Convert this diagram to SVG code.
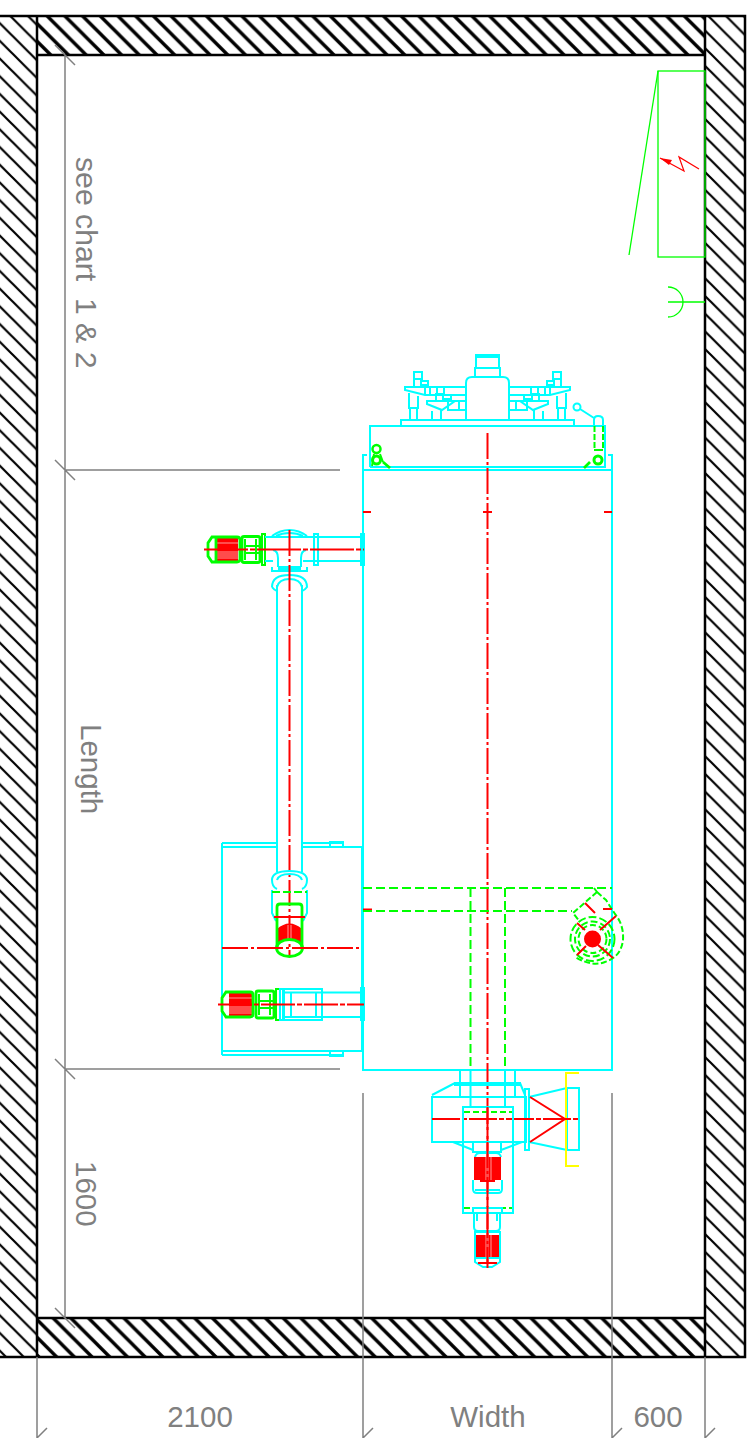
<svg xmlns="http://www.w3.org/2000/svg" xmlns:xlink="http://www.w3.org/1999/xlink" width="753" height="1438" viewBox="0 0 753 1438">
<style>
.c{fill:none;stroke:#00ffff;stroke-width:2}
.g{fill:none;stroke:#00ff00;stroke-width:2}
.gt{fill:none;stroke:#00ff00;stroke-width:1.3}
.g2{fill:none;stroke:#00ff00;stroke-width:2.8}
.d{fill:none;stroke:#00ff00;stroke-width:2;stroke-dasharray:9 4}
.r{fill:none;stroke:#ff0000;stroke-width:2}
.rt{fill:none;stroke:#ff0000;stroke-width:1.2}
.rc{fill:none;stroke:#ff0000;stroke-width:2;stroke-dasharray:26 3 3 3}
.rf{fill:#ff0000;stroke:none}
.w{stroke:#000;stroke-width:2.5;fill:none}
.dim{stroke:#808080;stroke-width:1.5;fill:none}
.t{font-family:"Liberation Sans",Arial,sans-serif;font-size:29.5px;fill:#808080;white-space:pre}
.st{stroke:#fff;stroke-width:.6;fill:none}
</style>
<defs>
<pattern id="hL" patternUnits="userSpaceOnUse" width="17.7" height="17.7" patternTransform="translate(12,0)"><path d="M-2,-2L19.7,19.7M-2,15.7L2,19.7M15.7,-2L19.7,2" stroke="#000" stroke-width="2.2" fill="none"/></pattern>
<pattern id="hT" patternUnits="userSpaceOnUse" width="17.7" height="17.7" patternTransform="translate(13.5,0)"><path d="M-2,-2L19.7,19.7M-2,15.7L2,19.7M15.7,-2L19.7,2" stroke="#000" stroke-width="3.4" fill="none"/></pattern>
<pattern id="hB" patternUnits="userSpaceOnUse" width="17.7" height="17.7" patternTransform="translate(9.5,0)"><path d="M-2,-2L19.7,19.7M-2,15.7L2,19.7M15.7,-2L19.7,2" stroke="#000" stroke-width="3.4" fill="none"/></pattern>
<pattern id="hR" patternUnits="userSpaceOnUse" width="17.7" height="17.7" patternTransform="translate(2,0)"><path d="M-2,-2L19.7,19.7M-2,15.7L2,19.7M15.7,-2L19.7,2" stroke="#000" stroke-width="2.2" fill="none"/></pattern>
<g id="stack">
<rect class="c" x="414" y="372" width="8" height="7"/>
<rect class="c" x="414" y="379" width="7" height="8"/>
<rect class="c" x="421" y="381" width="7" height="4"/>
<path class="c" d="M405,387H430V395H425L405,390ZM409,393V408H418V396M410,408V420M417,408V420M425,387V395M430,387H466M430,395H466"/>
<rect class="c" x="437" y="387" width="7" height="7"/>
<rect class="c" x="436" y="394" width="7" height="7"/>
<rect class="c" x="443" y="395" width="8" height="4"/>
<path class="c" d="M427,401H455L442,410L427,404ZM432,411V420M441,410V420"/>
<rect class="c" x="448" y="401" width="11" height="9"/>
<path class="c" d="M459,401H466M459,410H466"/>
</g>
<g id="motorA">
<rect class="rf" x="216" y="538" width="22" height="23"/>
<path class="st" d="M216,543H238M216,552H238M216,554H238M216,556H238M216,558H238"/>
</g>
</defs>

<g id="walls">
<rect x="0" y="16" width="37" height="1341" fill="url(#hL)"/>
<rect x="705" y="16" width="40" height="1341" fill="url(#hR)"/>
<rect x="37" y="16" width="668" height="39" fill="url(#hT)"/>
<rect x="37" y="1318" width="668" height="39" fill="url(#hB)"/>
<path class="w" d="M0,16H745V1357H0M37,16V1357M705,16V1357M37,55H705M37,1318H705"/>
</g>

<g id="dimensions">
<path class="dim" d="M65,55V1318M55,45L75,65M55,460L75,480M55,1059L75,1079M55,1308L75,1328M65,470H340M65,1069H340"/>
<path class="dim" d="M37,1357V1438M37,1438L47,1428M363,1093V1438M363,1438L373,1428M612,1093V1438M612,1438L622,1428M705,1357V1438M705,1438L715,1428"/>
<text class="t" x="200" y="1427" text-anchor="middle">2100</text>
<text class="t" x="488" y="1427" text-anchor="middle">Width</text>
<text class="t" x="658" y="1427" text-anchor="middle">600</text>
<text class="t" style="font-size:30.2px" xml:space="preserve" transform="translate(76,157) rotate(90)">see chart  1 &amp; 2</text>
<text class="t" transform="translate(81,724) rotate(90)">Length</text>
<text class="t" transform="translate(76,1161) rotate(90)">1600</text>
</g>

<g id="panel">
<rect class="gt" x="658" y="71" width="47" height="186"/>
<path class="gt" d="M658,71L629,255"/>
<path class="rt" d="M660,158L684,171L679,157L699,169"/>
<path class="rf" d="M660,158L672,160L669,165Z"/>
</g>
<g id="socket"><path class="gt" d="M668,287A15,15 0 0 1 668,317M668,302H705"/></g>

<g id="tank">
<rect class="c" x="363" y="470" width="249" height="600"/>
<path class="c" d="M367,455H363V470M608,455H612V470"/>
<path class="rc" d="M487.5,433V1268"/>
<path class="r" d="M363,512H371M483,512H492M604,512H612M363,909.5H372"/>
<path class="d" d="M363,888H612M363,911H572M470.5,888V1070M505,888V1070"/>
</g>

<g id="drive">
<path class="c" d="M370,467V426H605V467H370M401,426V420H574V426M466,420V383Q466,377 472,377H503Q509,377 509,383V420M475,377V368H500V377M476,368V355H499V368M476,357H499"/>
<use xlink:href="#stack"/>
<use xlink:href="#stack" transform="translate(975,0) scale(-1,1)"/>
<circle class="c" cx="577" cy="407" r="3.5"/>
<path class="c" d="M580,409L594,418M594,426V420Q594,416 598,416Q603,416 603,420V426"/>
<path class="d" d="M594.5,426V450M603,426V450" style="stroke-dasharray:6 2"/>
<path class="g" d="M594,450H603"/>
<circle cx="376.500" cy="449" r="4" fill="none" stroke="#00ff00" stroke-width="2.500"/>
<circle cx="376.500" cy="460" r="4" fill="none" stroke="#00ff00" stroke-width="3"/>
<path class="g" d="M372,466L374,454M380,454L383,462"/>
<circle cx="598" cy="460" r="4" fill="none" stroke="#00ff00" stroke-width="3"/>
<path class="g2" d="M383,462L390,468M590,462L584,468"/>
</g>

<g id="conveyor-top">
<use xlink:href="#motorA"/>
<path class="g2" d="M212,537H237Q240,537 240,540V559Q240,562 237,562H212L208,556V543ZM216,538V561"/>
<rect class="g2" x="242" y="536.500" width="18" height="26" rx="2"/>
<path class="g" d="M245,539V560M256,539V560M245,546H260M245,553H260"/>
<rect class="g" x="262" y="534" width="3" height="31"/>
<path class="c" d="M265,537H361M265,561H273M303,561H361"/>
<rect class="c" x="314" y="534" width="4" height="31"/>
<rect class="c" x="361" y="534" width="3" height="31"/>
<path class="c" d="M272,536Q280,530 289.500,530Q299,530 307,536M276,536Q282,533 289.500,533Q297,533 303,536M273,550Q278,551 278,558V567M306,550Q301,551 301,558V567M272,567V571H307V567M278,567H301M278,569H301"/>
<path class="c" d="M272,587Q272,575 289.500,575Q307,575 307,587Q305,590 302,591M272,587Q274,590 277,591M277,587Q279,579 289.500,579Q300,579 302,587"/>
<path class="c" d="M277,585V872M302,585V872"/>
<path class="r" d="M204,549.500H364" stroke-dasharray="44 2 5 2"/>
<path class="rc" d="M289.500,530V956"/>
</g>

<g id="screw-unit">
<path class="c" d="M222,843H277M302,843H344M222,843V1055M222,847H277M302,847H362V1051H222M222,1055H344"/>
<rect class="c" x="330" y="842" width="13" height="5"/>
<rect class="c" x="330" y="1051" width="13" height="5"/>
<path class="c" d="M272,880Q272,871 289.500,871Q307,871 307,880Q307,887 302,889M272,880Q272,887 277,889M277,880Q279,874 289.500,874Q300,874 302,880M272,890V913L276,921M307,890V913L303,921"/>
<path class="d" d="M272,892H307" style="stroke-dasharray:8 3"/>
<path class="rf" d="M277,929Q289.500,918 302,929V943Q289.500,936 277,943Z"/>
<path class="st" d="M288,925V940M291,925V940"/>
<path class="g2" d="M277,907Q277,904 280,904H299Q302,904 302,907V948M277,907V948"/>
<ellipse class="g2" cx="289.500" cy="948" rx="13" ry="8.500"/>
<path class="r" d="M274,917H305"/>
<path class="rc" d="M222,948H362"/>
<rect class="rf" x="229" y="993" width="23" height="23"/>
<path class="st" d="M229,998H252M229,1007H252M229,1009H252M229,1011H252M229,1013H252"/>
<path class="g2" d="M226,992H250Q253,992 253,995V1014Q253,1017 250,1017H226L222,1011V998Z"/>
<rect class="g2" x="256" y="991" width="18" height="27" rx="2"/>
<path class="g" d="M259,994V1015M270,994V1015M259,1001H274M259,1008H274"/>
<rect class="g" x="276" y="989" width="4" height="31"/>
<rect class="c" x="280" y="989" width="3" height="31"/>
<rect class="c" x="284" y="989" width="38" height="31"/>
<path class="c" d="M283,992.500H361M283,1017H361M291,992.500V1017M316,992.500V1017"/>
<rect class="c" x="361" y="988" width="3" height="32"/>
<path class="r" d="M218,1004.500H364" stroke-dasharray="34 2 5 2"/>
</g>

<g id="fan">
<circle class="rf" cx="592.500" cy="939" r="8.500"/>
<circle class="d" cx="592.500" cy="939" r="14" style="stroke-dasharray:6 3"/>
<circle class="d" cx="592.500" cy="939" r="17.500" style="stroke-dasharray:7 3"/>
<circle class="d" cx="592.500" cy="939" r="22" style="stroke-dasharray:8 3"/>
<path class="d" d="M597,892L606,900L615,914Q624,925 623,940Q621,957 605,962Q592,967 575,957M597,892L573,913L580,922M594,888L597,892" style="stroke-dasharray:6 2.500"/>
<path class="r" d="M585,903L595,913M577,923L585,930M600,930L616,916M598,945L613,958M586,946L577,955M603,909H612"/>
</g>

<g id="gearbox">
<path class="c" d="M460,1070V1097M515,1070V1097M470.500,1070V1107M505,1070V1107M455,1083H520V1085H455ZM432,1095L455,1083M520,1083L525,1095"/>
<rect class="c" x="432" y="1097" width="94" height="45"/>
<rect class="c" x="525" y="1089" width="4" height="61"/>
<path class="c" d="M529,1097L567,1088M529,1142L567,1150"/>
<rect class="c" x="567" y="1088" width="12" height="62"/>
<path d="M579,1073H566V1166H579" fill="none" stroke="#ffff00" stroke-width="2"/>
<path class="r" d="M530,1097L565,1119L530,1142"/>
<path class="r" d="M432,1119H579" stroke-dasharray="28 2 5 2"/>
<rect class="c" x="463" y="1107" width="50" height="106"/>
<path class="d" d="M464,1112H512M464,1208H512" style="stroke-dasharray:6 3"/>
<path class="c" d="M453,1142L473,1150V1152H501V1150L522,1142M473,1152V1142M501,1152V1142"/>
<path class="c" d="M475,1157Q476,1153 480,1153H496Q500,1153 501,1157"/>
<path class="rf" d="M474,1157H501V1180H495V1182H480V1180H474Z"/>
<path class="st" d="M486,1157V1180M488,1157V1180M491,1157V1180"/>
<path class="c" d="M473,1180V1189Q473,1193 477,1193H498Q502,1193 502,1189V1180M475,1190H500"/>
<path class="c" d="M473,1208H502V1213H473ZM474,1213V1227Q474,1231 478,1231H496Q500,1231 500,1227V1213M477,1213V1221M497,1213V1221"/>
<path class="c" d="M475,1232H500V1262L492,1267H483L475,1262ZM475,1258H500"/>
<rect class="rf" x="476" y="1235" width="23" height="22"/>
<path class="st" d="M486,1235V1257M488,1235V1257M491,1235V1257"/>
<path class="r" d="M478,1263H497"/>
<path class="rc" d="M487.500,1107V1268"/>
</g>
</svg>
